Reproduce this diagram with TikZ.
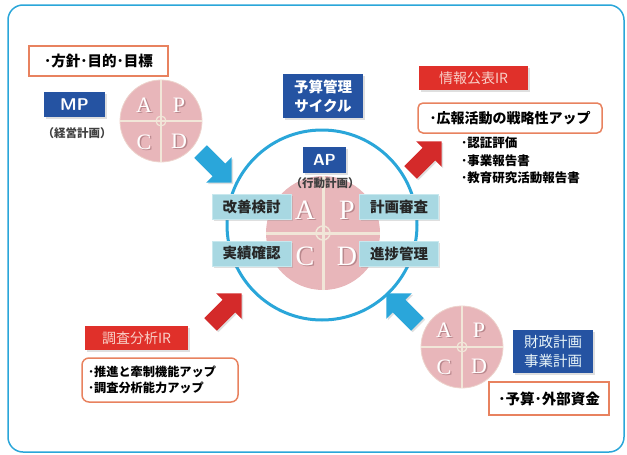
\documentclass[tikz,border=0pt]{standalone}
\usepackage{fontspec}
\newfontfamily\jp{Noto Sans CJK JP}
\newfontfamily\serifL{Liberation Serif}
\usetikzlibrary{shapes.arrows,shadows,calc}
\definecolor{frameblue}{HTML}{2AA6D9}
\definecolor{dkblue}{HTML}{2553A2}
\definecolor{redbox}{HTML}{E0302A}
\definecolor{redtext}{HTML}{F8D0C8}
\definecolor{orborder}{HTML}{E8825F}
\definecolor{pinkc}{HTML}{E8B6BA}
\definecolor{crossc}{HTML}{F1E6D8}
\definecolor{lblue}{HTML}{A8D8E2}
\definecolor{lblueb}{HTML}{C8E8EE}
\definecolor{arrblue}{HTML}{2AA6DA}
\definecolor{arrred}{HTML}{D42A2A}
\definecolor{shadowpink}{HTML}{9A6A70}
\tikzset{
  softshadow/.style={drop shadow={opacity=0.25,shadow xshift=1.5pt,shadow yshift=-1.5pt}},
  bluebox/.style={fill=dkblue,text=white,font=\jp\bfseries\fontsize{14.5}{18}\selectfont,inner sep=0pt,align=center,softshadow},
  redlabel/.style={fill=redbox,text=redtext,font=\jp\fontsize{14}{16}\selectfont,inner sep=0pt,softshadow},
  whitebox/.style={draw=orborder,line width=1.5pt,fill=white,font=\jp\bfseries\fontsize{14.5}{16}\selectfont,inner sep=0pt},
  lbluebox/.style={fill=lblue,draw=lblueb,line width=1pt,font=\jp\bfseries\fontsize{14.5}{16}\selectfont,text=black!85,inner sep=0pt,minimum width=79pt,minimum height=25pt,softshadow},
  pdcacircle/.style={circle,fill=pinkc,draw=crossc!60!pinkc,line width=0.8pt,inner sep=0pt},
  crossline/.style={draw=crossc,line width=2.5pt},
  letterw/.style={text=white,font=\serifL\fontsize{#1}{#1}\selectfont,inner sep=0pt},
  lettersh/.style={text=shadowpink,opacity=0.6,font=\serifL\fontsize{#1}{#1}\selectfont,inner sep=0pt},
  blockarrow/.style={single arrow,minimum height=44pt,minimum width=36pt,inner sep=8.5pt,single arrow head extend=9pt,softshadow},
  subtext/.style={font=\jp\bfseries\fontsize{11.5}{13}\selectfont,text=black!75,inner sep=0pt},
  listtext/.style={font=\jp\bfseries\fontsize{12.5}{17.5}\selectfont,align=left,inner sep=0pt}
}
\newcommand{\pdcaltr}[4]{%
  \node[lettersh=#4] (#1s) at ($(#2)+(1.5,1.5)$) {#3};
  \node[letterw=#4] (#1) at (#2) {#3};}
\begin{document}
\begin{tikzpicture}[x=1pt,y=-1pt]
\useasboundingbox (0,0) rectangle (627,455);
\draw[frameblue,line width=1.5pt,rounded corners=15pt] (8,5) rectangle (624,452);

% ---------- MP (top left)
\node[whitebox,minimum width=139pt,minimum height=30pt] (hoshin) at (98.5,61) {･方針･目的･目標};
\node[bluebox,minimum width=61pt,minimum height=25pt,font=\sffamily\bfseries\fontsize{17}{18}\selectfont] (mp) at (74.5,104.5) {MP};
\node[subtext] (mpsub) at (77,133) {（経営計画）};
\node[pdcacircle,minimum size=82pt] (c1) at (161,121) {};
\draw[crossline] (c1.north) -- (c1.south);
\draw[crossline] (c1.west) -- (c1.east);
\draw[crossc,line width=1.2pt] (c1.center) circle[radius=5];
\pdcaltr{c1a}{144,105}{A}{22}
\pdcaltr{c1p}{179,105}{P}{22}
\pdcaltr{c1c}{144,142}{C}{22}
\pdcaltr{c1d}{179,141}{D}{22}
\node[blockarrow,fill=arrblue,rotate=-45] (arr1) at (213,164) {};

% ---------- central cycle
\node[bluebox,minimum width=80pt,minimum height=44pt,font=\jp\bfseries\fontsize{14.5}{19}\selectfont] (cycle) at (323,96) {予算管理\\サイクル};
\node[circle,draw=frameblue,line width=3pt,minimum size=190pt,inner sep=0pt] (ring) at (322,225) {};
\node[pdcacircle,minimum size=114pt,draw=none] (inner) at (323,233) {};
\draw[crossline,line width=3pt] (inner.north) -- (inner.south);
\draw[crossline,line width=3pt] (inner.west) -- (inner.east);
\draw[crossc,line width=1.5pt] (inner.center) circle[radius=7];
\node[bluebox,minimum width=43pt,minimum height=26pt,font=\sffamily\bfseries\fontsize{16}{17}\selectfont] (ap) at (324.5,160) {AP};
\node[subtext] (apsub) at (325,183) {（行動計画）};
\pdcaltr{ia}{305,210}{A}{28}
\pdcaltr{ip}{347,210}{P}{28}
\pdcaltr{ic}{305,256}{C}{28}
\pdcaltr{id}{347,256}{D}{28}
\node[lbluebox] (kaizen) at (251.5,207) {改善検討};
\node[lbluebox] (keikaku) at (399,207) {計画審査};
\node[lbluebox] (jisseki) at (251.5,253.5) {実績確認};
\node[lbluebox] (shinchoku) at (399,253.5) {進捗管理};

% ---------- info IR (top right)
\node[redlabel,minimum width=109pt,minimum height=24pt] (joho) at (473.5,78) {情報公表IR};
\node[whitebox,rounded corners=5pt,minimum width=184pt,minimum height=30pt,font=\jp\bfseries\fontsize{14}{16}\selectfont] (koho) at (510,118) {･広報活動の戦略性アップ};
\node[blockarrow,fill=arrred,rotate=45] (arr2) at (423,160) {};
\node[listtext,anchor=north west] (jlist) at (461,137) {･認証評価\\･事業報告書\\･教育研究活動報告書};

% ---------- survey IR (bottom left)
\node[blockarrow,fill=arrred,rotate=45] (arr3) at (223,312) {};
\node[redlabel,minimum width=103pt,minimum height=24pt] (chosa) at (136.5,338) {調査分析IR};
\node[whitebox,rounded corners=7pt,minimum width=156pt,minimum height=44pt,text width=144pt,align=left,font=\jp\bfseries\fontsize{12.2}{16}\selectfont] (clist) at (160,380) {･推進と牽制機能アップ\\･調査分析能力アップ};

% ---------- finance (bottom right)
\node[blockarrow,fill=arrblue,rotate=135] (arr4) at (405,312) {};
\node[pdcacircle,minimum size=82pt] (c2) at (462,347) {};
\draw[crossline] (c2.north) -- (c2.south);
\draw[crossline] (c2.west) -- (c2.east);
\draw[crossc,line width=1.2pt] (c2.center) circle[radius=5];
\pdcaltr{c2a}{444,330}{A}{22}
\pdcaltr{c2p}{479,330}{P}{22}
\pdcaltr{c2c}{444,367}{C}{22}
\pdcaltr{c2d}{479,366}{D}{22}
\node[bluebox,minimum width=80pt,minimum height=43pt,text=white!75!lblue,font=\jp\fontsize{14.5}{19}\selectfont] (zaisei) at (553,351.5) {財政計画\\事業計画};
\node[whitebox,minimum width=120pt,minimum height=33pt] (yosan) at (549,398.5) {･予算･外部資金};
\end{tikzpicture}
\end{document}
